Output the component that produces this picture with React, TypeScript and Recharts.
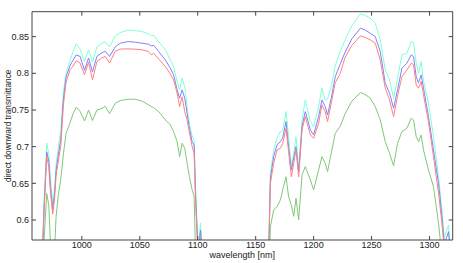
import { Line, LineChart, XAxis, YAxis } from "recharts";

// wavelength grid [nm]
const wavelength = [
  957, 965, 967.5, 969.7, 971.5, 973, 974.9, 976.5, 977.8, 979.8, 981.8, 984.1,
  986.4, 989.9, 992.5, 995.1, 998.5, 1002.3, 1005.8, 1009.2, 1013, 1017.3,
  1020.2, 1023.9, 1028.8, 1033.1, 1040, 1046.1, 1052, 1057.6, 1060, 1062,
  1066.3, 1072.1, 1076.4, 1079.2, 1082.2, 1084.4, 1086.5, 1088.8, 1090.8,
  1092.8, 1095.2, 1096.9, 1098, 1100.3, 1102.4, 1104.3, 1110, 1150, 1160,
  1161.5, 1162.7, 1165.5, 1168.4, 1171.3, 1173.3, 1176.2, 1178.4, 1180.8,
  1182.8, 1184.8, 1187.1, 1190, 1192.8, 1197.2, 1200, 1204.3, 1207.2, 1210,
  1212, 1215.2, 1218.6, 1223, 1227.2, 1233, 1240.3, 1244.5, 1248.9, 1253.2,
  1257.5, 1261.8, 1265.5, 1269, 1272.4, 1276.2, 1280.5, 1284.2, 1286.2,
  1288.5, 1290.5, 1292.8, 1294.8, 1299.1, 1303.4, 1307.8, 1310.7, 1312.7,
  1314.5, 1316.4, 1318.5, 1320,
];

const cyanSeries = [
  0.4, 0.52, 0.63, 0.705, 0.69, 0.655, 0.621, 0.645, 0.675, 0.7, 0.72, 0.775,
  0.8, 0.818, 0.83, 0.84, 0.833, 0.816, 0.832, 0.815, 0.836, 0.841, 0.843,
  0.836, 0.851, 0.8555, 0.859, 0.8583, 0.857, 0.8537, 0.851, 0.852, 0.8433,
  0.8319, 0.818, 0.8091, 0.7887, 0.7774, 0.7933, 0.782, 0.7546, 0.732, 0.7146,
  0.71, 0.65, 0.56, 0.596, 0.55, 0.3, 0.3, 0.45, 0.58, 0.6637, 0.6955, 0.7114,
  0.7205, 0.722, 0.7478, 0.7137, 0.6727, 0.691, 0.7137, 0.6705, 0.7364,
  0.7637, 0.7341, 0.7273, 0.7546, 0.7797, 0.7637, 0.765, 0.782, 0.81, 0.83,
  0.846, 0.865, 0.881, 0.879, 0.8751, 0.8683, 0.8456, 0.8046, 0.791, 0.766,
  0.7933, 0.8251, 0.8274, 0.8433, 0.842, 0.8138, 0.8, 0.816, 0.79, 0.7592,
  0.7137, 0.659, 0.6136, 0.575, 0.585, 0.593, 0.55, 0.5,
];

const blueSeries = [
  0.4, 0.51, 0.62, 0.693, 0.68, 0.645, 0.614, 0.637, 0.667, 0.69, 0.71, 0.765,
  0.795, 0.811, 0.818, 0.825, 0.823, 0.804, 0.821, 0.802, 0.823, 0.828, 0.83,
  0.823, 0.836, 0.841, 0.8433, 0.8424, 0.841, 0.8397, 0.8374, 0.838, 0.8297,
  0.818, 0.807, 0.7978, 0.7774, 0.766, 0.7774, 0.766, 0.7455, 0.7251, 0.7068,
  0.7023, 0.64, 0.555, 0.586, 0.545, 0.3, 0.3, 0.44, 0.575, 0.6569, 0.6864,
  0.7023, 0.7068, 0.712, 0.7341, 0.7, 0.6682, 0.685, 0.7, 0.665, 0.7273,
  0.7478, 0.7228, 0.716, 0.741, 0.7637, 0.7546, 0.7432, 0.766, 0.795, 0.813,
  0.829, 0.847, 0.8615, 0.859, 0.8546, 0.85, 0.8297, 0.7865, 0.773, 0.7524,
  0.7774, 0.807, 0.8138, 0.8251, 0.823, 0.7955, 0.787, 0.7978, 0.78, 0.741,
  0.6955, 0.65, 0.6046, 0.568, 0.575, 0.584, 0.545, 0.5,
];

const redSeries = [
  0.4, 0.5, 0.615, 0.687, 0.672, 0.636, 0.608, 0.63, 0.66, 0.682, 0.7, 0.757,
  0.788, 0.805, 0.81, 0.8173, 0.814, 0.798, 0.815, 0.791, 0.816, 0.821, 0.823,
  0.814, 0.83, 0.833, 0.8333, 0.8329, 0.832, 0.8297, 0.8251, 0.8274, 0.8196,
  0.8091, 0.799, 0.791, 0.773, 0.7546, 0.768, 0.7478, 0.7364, 0.7191, 0.7,
  0.691, 0.63, 0.55, 0.577, 0.54, 0.3, 0.3, 0.43, 0.57, 0.65, 0.6774, 0.6955,
  0.6978, 0.704, 0.7251, 0.6932, 0.659, 0.6774, 0.6955, 0.659, 0.7228, 0.741,
  0.716, 0.7114, 0.732, 0.7569, 0.7478, 0.7341, 0.7592, 0.787, 0.8, 0.822,
  0.838, 0.851, 0.849, 0.8456, 0.841, 0.818, 0.7797, 0.7637, 0.741, 0.7692,
  0.7955, 0.8046, 0.8138, 0.812, 0.7842, 0.7797, 0.7887, 0.7705, 0.7341,
  0.6864, 0.6364, 0.5955, 0.56, 0.565, 0.57, 0.54, 0.5,
];

const greenSeries = [
  0.35, 0.45, 0.575, 0.636, 0.62, 0.565, 0.54, 0.56, 0.605, 0.635, 0.655, 0.69,
  0.718, 0.733, 0.745, 0.7537, 0.748, 0.735, 0.75, 0.7355, 0.75, 0.752, 0.755,
  0.745, 0.759, 0.7628, 0.7646, 0.7646, 0.762, 0.7569, 0.7546, 0.753, 0.7478,
  0.7364, 0.7296, 0.7205, 0.7068, 0.6864, 0.7046, 0.6978, 0.6774, 0.659,
  0.641, 0.632, 0.56, 0.5, 0.53, 0.49, 0.3, 0.3, 0.38, 0.52, 0.5909, 0.6136,
  0.6182, 0.6273, 0.641, 0.659, 0.6318, 0.62, 0.605, 0.6296, 0.6, 0.6614,
  0.6727, 0.6546, 0.641, 0.6682, 0.6864, 0.6774, 0.6659, 0.691, 0.718, 0.728,
  0.745, 0.762, 0.7737, 0.771, 0.766, 0.7546, 0.7364, 0.7068, 0.691, 0.6737,
  0.7046, 0.7205, 0.7251, 0.7387, 0.7364, 0.7137, 0.7068, 0.716, 0.6955,
  0.6682, 0.6455, 0.5955, 0.55, 0.52, 0.52, 0.52, 0.5, 0.48,
];

const xTicks = [1000, 1050, 1100, 1150, 1200, 1250, 1300];
const yTicks = [0.6, 0.65, 0.7, 0.75, 0.8, 0.85];

const data = wavelength.map((w, i) => ({
  w,
  cyan: cyanSeries[i],
  blue: blueSeries[i],
  red: redSeries[i],
  green: greenSeries[i],
}));

const xDomain = [957, 1320];
const yDomain = [0.5727, 0.884];
const axisColor = "#444";
const tickStyle = { fill: "#222", fontSize: 9 };

export default function App() {
  return (
    <div
      style={{
        position: "absolute",
        left: 0,
        top: 0,
        fontFamily: "'Liberation Sans', Arial, sans-serif",
      }}
    >
      <LineChart
        width={463}
        height={263}
        data={data}
        margin={{ top: 10.7, right: 9.3, left: 0, bottom: 0 }}
      >
        <XAxis
          xAxisId="b"
          dataKey="w"
          type="number"
          domain={xDomain}
          ticks={xTicks}
          allowDataOverflow
          tickSize={-4}
          tickMargin={6}
          height={23}
          stroke={axisColor}
          tick={tickStyle}
          label={{
            value: "wavelength [nm]",
            position: "insideBottom",
            offset: 5,
            style: { fill: "#222", fontSize: 9 },
          }}
        />
        <XAxis
          xAxisId="t"
          orientation="top"
          dataKey="w"
          type="number"
          domain={xDomain}
          ticks={xTicks}
          allowDataOverflow
          tickSize={-4}
          height={1}
          stroke={axisColor}
          tickFormatter={() => ""}
        />
        <YAxis
          yAxisId="l"
          type="number"
          domain={yDomain}
          ticks={yTicks}
          allowDataOverflow
          tickSize={-4}
          tickMargin={7}
          width={32}
          stroke={axisColor}
          tick={tickStyle}
          label={{
            value: "direct downward transmittance",
            angle: -90,
            position: "insideLeft",
            offset: 8,
            style: { fill: "#222", fontSize: 8.3, textAnchor: "middle" },
          }}
        />
        <YAxis
          yAxisId="r"
          orientation="right"
          type="number"
          domain={yDomain}
          ticks={yTicks}
          allowDataOverflow
          tickSize={-4}
          width={1}
          stroke={axisColor}
          tickFormatter={() => ""}
        />
        <Line xAxisId="b" yAxisId="l" type="linear" dataKey="cyan" stroke="#80ffd4" strokeWidth={1} dot={false} isAnimationActive={false} />
        <Line xAxisId="b" yAxisId="l" type="linear" dataKey="blue" stroke="#8080ff" strokeWidth={1} dot={false} isAnimationActive={false} />
        <Line xAxisId="b" yAxisId="l" type="linear" dataKey="red" stroke="#ff8080" strokeWidth={1} dot={false} isAnimationActive={false} />
        <Line xAxisId="b" yAxisId="l" type="linear" dataKey="green" stroke="#80c878" strokeWidth={1} dot={false} isAnimationActive={false} />
      </LineChart>
    </div>
  );
}
